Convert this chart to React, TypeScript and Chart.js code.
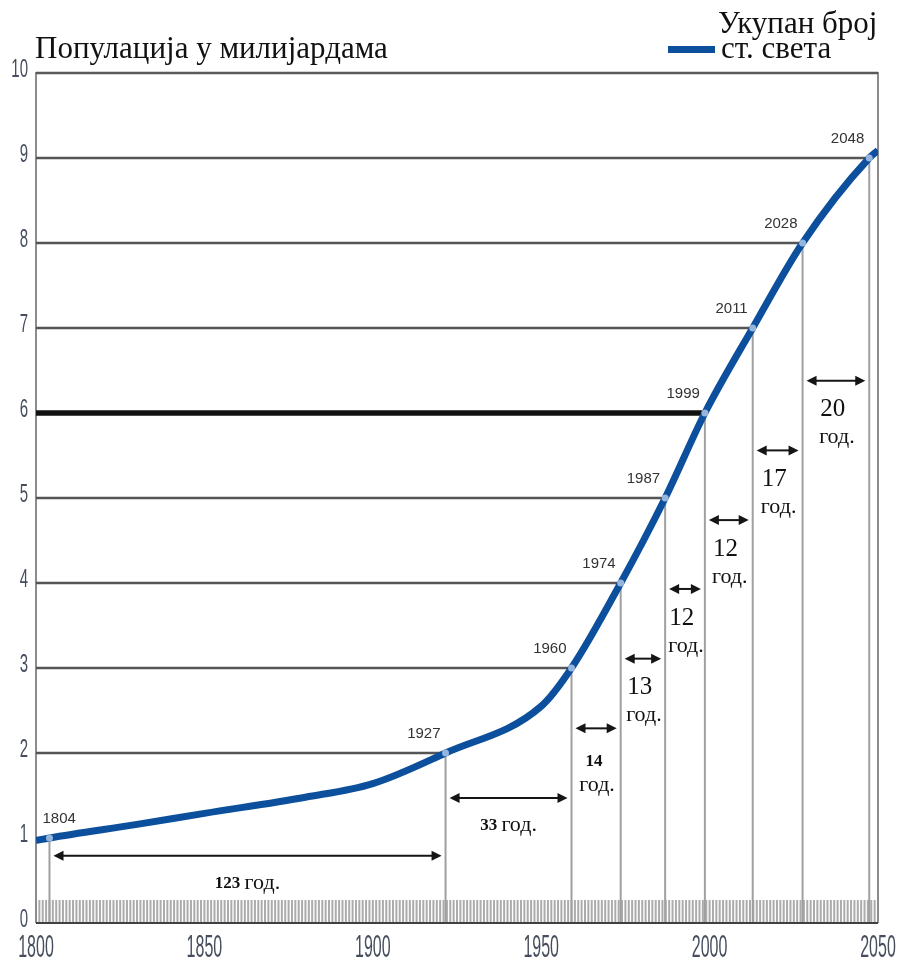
import React, { useEffect, useRef } from 'react';
import { Chart, registerables } from 'chart.js';

Chart.register(...registerables);

// ---------- data ----------
const TITLE = 'Популација у милијардама';
const LEGEND_LINES = ['Укупан број', 'ст. света'];
const INTERVAL_UNIT = 'год.';

// world population curve (year as placed on the drawing, billions)
const curveYears = [1800, 1804, 1830, 1850, 1880, 1900, 1921.6, 1950, 1959.0, 1973.6, 1986.8, 1998.6, 2012.8, 2027.6, 2047.4, 2050];
const curveBillions = [0.97, 1.0, 1.16, 1.29, 1.48, 1.64, 2.0, 2.55, 3.0, 4.0, 5.0, 6.0, 7.0, 8.0, 9.0, 9.09];

// each billion milestone: its label, position on the drawing and value
const milestoneLabels = ['1804', '1927', '1960', '1974', '1987', '1999', '2011', '2028', '2048'];
const milestoneYears = [1804, 1921.6, 1959.0, 1973.6, 1986.8, 1998.6, 2012.8, 2027.6, 2047.4];
const milestoneBillions = [1, 2, 3, 4, 5, 6, 7, 8, 9];

// level (billions) at which each interval arrow is drawn
const intervalArrowLevels = [0.79, 1.47, 2.29, 3.11, 3.93, 4.74, 5.56, 6.38];

const yTickValues = [0, 1, 2, 3, 4, 5, 6, 7, 8, 9, 10];
const xTickValues = [1800, 1850, 1900, 1950, 2000, 2050];
const highlightedBillion = 6;
const X_MIN = 1800;
const X_MAX = 2050;
const Y_MIN = 0;
const Y_MAX = 10;

// ---------- styles ----------
const LINE_BLUE = '#0c4f9d';
const SERIF = '"Liberation Serif", "Times New Roman", serif';
const SANS = '"Liberation Sans", Arial, sans-serif';
const AXIS_TEXT = '#464e5e';
const BOLD_INTERVALS = 3;

function squeezedText(ctx: CanvasRenderingContext2D, text: string, x: number, y: number, font: string, align: CanvasTextAlign, sx: number) {
  ctx.save();
  ctx.translate(x, y);
  ctx.scale(sx, 1);
  ctx.font = font;
  ctx.textAlign = align;
  ctx.textBaseline = 'middle';
  ctx.fillText(text, 0, 0);
  ctx.restore();
}

function drawArrow(ctx: CanvasRenderingContext2D, x1: number, x2: number, yy: number) {
  const head = 10;
  const hw = 5;
  ctx.save();
  ctx.strokeStyle = '#151515';
  ctx.fillStyle = '#151515';
  ctx.lineWidth = 2;
  ctx.beginPath();
  ctx.moveTo(x1 + head - 2, yy);
  ctx.lineTo(x2 - head + 2, yy);
  ctx.stroke();
  ctx.beginPath();
  ctx.moveTo(x1, yy);
  ctx.lineTo(x1 + head, yy - hw);
  ctx.lineTo(x1 + head, yy + hw);
  ctx.closePath();
  ctx.fill();
  ctx.beginPath();
  ctx.moveTo(x2, yy);
  ctx.lineTo(x2 - head, yy - hw);
  ctx.lineTo(x2 - head, yy + hw);
  ctx.closePath();
  ctx.fill();
  ctx.restore();
}

const decorPlugin = {
  id: 'populationDecor',
  beforeDatasetsDraw(chart: any) {
    const { ctx, chartArea, scales } = chart;
    const { left, right, top, bottom } = chartArea;
    const x = scales.x;
    const y = scales.y;
    ctx.save();

    // annual tick strip along the bottom
    const stripTop = y.getPixelForValue(0.27);
    ctx.fillStyle = '#ababab';
    for (let yr = X_MIN + 1; yr < X_MAX; yr++) {
      const px = x.getPixelForValue(yr);
      ctx.fillRect(px - 1, stripTop, 2, bottom - stripTop);
    }

    // frame: left axis, right border
    ctx.strokeStyle = '#8c8c8c';
    ctx.lineWidth = 2;
    ctx.beginPath();
    ctx.moveTo(left, top - 1);
    ctx.lineTo(left, bottom);
    ctx.moveTo(right, top - 1);
    ctx.lineTo(right, bottom);
    ctx.stroke();

    // top border at 10 billions
    ctx.strokeStyle = '#5a5a5a';
    ctx.lineWidth = 2.5;
    ctx.beginPath();
    ctx.moveTo(left, y.getPixelForValue(Y_MAX));
    ctx.lineTo(right, y.getPixelForValue(Y_MAX));
    ctx.stroke();

    // verticals from each milestone down to the base
    ctx.strokeStyle = '#a0a0a0';
    ctx.lineWidth = 2;
    milestoneYears.forEach((yr, i) => {
      const px = x.getPixelForValue(yr);
      ctx.beginPath();
      ctx.moveTo(px, y.getPixelForValue(milestoneBillions[i]));
      ctx.lineTo(px, bottom);
      ctx.stroke();
    });

    // horizontals from the axis to each milestone
    milestoneYears.forEach((yr, i) => {
      const v = milestoneBillions[i];
      const py = y.getPixelForValue(v);
      const hi = v === highlightedBillion;
      ctx.strokeStyle = hi ? '#111111' : '#555555';
      ctx.lineWidth = hi ? 5.5 : 2.5;
      ctx.beginPath();
      ctx.moveTo(left, py);
      ctx.lineTo(x.getPixelForValue(yr), py);
      ctx.stroke();
    });

    // baseline
    ctx.strokeStyle = '#404040';
    ctx.lineWidth = 2;
    ctx.beginPath();
    ctx.moveTo(left, bottom);
    ctx.lineTo(right, bottom);
    ctx.stroke();
    ctx.restore();
  },
  afterDatasetsDraw(chart: any) {
    const { ctx, chartArea, scales } = chart;
    const { left, bottom } = chartArea;
    const x = scales.x;
    const y = scales.y;
    ctx.save();

    // milestone year labels
    ctx.fillStyle = '#333333';
    ctx.font = `15px ${SANS}`;
    ctx.textBaseline = 'middle';
    milestoneYears.forEach((yr, i) => {
      const px = x.getPixelForValue(yr);
      const py = y.getPixelForValue(milestoneBillions[i]) - 19;
      const w = ctx.measureText(milestoneLabels[i]).width;
      if (px - 5 - w < left) {
        ctx.textAlign = 'left';
        ctx.fillText(milestoneLabels[i], px - 7, py);
      } else {
        ctx.textAlign = 'right';
        ctx.fillText(milestoneLabels[i], px - 5, py);
      }
    });

    // interval arrows and their labels
    ctx.fillStyle = '#111111';
    for (let i = 0; i < milestoneYears.length - 1; i++) {
      const span = parseInt(milestoneLabels[i + 1], 10) - parseInt(milestoneLabels[i], 10);
      const x1 = x.getPixelForValue(milestoneYears[i]) + 4;
      const x2 = x.getPixelForValue(milestoneYears[i + 1]) - 4;
      const ay = y.getPixelForValue(intervalArrowLevels[i]);
      drawArrow(ctx, x1, x2, ay);
      const bold = i < BOLD_INTERVALS;
      const numFont = bold ? `bold 17px ${SERIF}` : `25px ${SERIF}`;
      const unitFont = `22px ${SERIF}`;
      const cx = (x1 + x2) / 2;
      const num = String(span);
      ctx.textBaseline = 'middle';
      if (x2 - x1 > 100) {
        ctx.font = numFont;
        const wn = ctx.measureText(num + ' ').width;
        ctx.font = unitFont;
        const wu = ctx.measureText(INTERVAL_UNIT).width;
        const sx = cx - (wn + wu) / 2;
        ctx.textAlign = 'left';
        ctx.font = numFont;
        ctx.fillText(num, sx, ay + 28);
        ctx.font = unitFont;
        ctx.fillText(INTERVAL_UNIT, sx + wn, ay + 27);
      } else {
        ctx.font = unitFont;
        const wu = ctx.measureText(INTERVAL_UNIT).width;
        ctx.textAlign = 'center';
        ctx.fillText(INTERVAL_UNIT, cx + 1, ay + 57);
        ctx.font = numFont;
        if (bold) {
          ctx.textAlign = 'center';
          ctx.fillText(num, cx - 2, ay + 33);
        } else {
          ctx.textAlign = 'left';
          ctx.fillText(num, cx + 1 - wu / 2 + 1, ay + 29);
        }
      }
    }

    // axis tick labels (condensed)
    ctx.fillStyle = AXIS_TEXT;
    yTickValues.forEach((v) => {
      squeezedText(ctx, String(v), 28, y.getPixelForValue(v) - 3, `25px ${SANS}`, 'right', 0.6);
    });
    xTickValues.forEach((v) => {
      squeezedText(ctx, String(v), x.getPixelForValue(v), bottom + 25, `32px ${SANS}`, 'center', 0.5);
    });

    // title
    ctx.fillStyle = '#111111';
    ctx.font = `31px ${SERIF}`;
    ctx.textAlign = 'left';
    ctx.textBaseline = 'alphabetic';
    ctx.fillText(TITLE, 35, 58);

    // legend
    ctx.fillText(LEGEND_LINES[0], 718, 33);
    ctx.fillText(LEGEND_LINES[1], 721, 58);
    ctx.fillStyle = LINE_BLUE;
    ctx.fillRect(668, 46, 47, 7);

    ctx.restore();
  },
};

export default function App() {
  const ref = useRef<HTMLCanvasElement | null>(null);

  useEffect(() => {
    const canvas = ref.current;
    if (!canvas) return;
    const curve = curveYears.map((yr, i) => ({ x: yr, y: curveBillions[i] }));
    const points = milestoneYears.map((yr, i) => ({ x: yr, y: milestoneBillions[i] }));
    const chart = new Chart(canvas, {
      type: 'line',
      data: {
        datasets: [
          {
            label: 'Миљарда',
            data: points,
            showLine: false,
            pointRadius: 3.5,
            pointHoverRadius: 3.5,
            pointBackgroundColor: 'rgba(165,192,228,0.9)',
            pointBorderWidth: 0,
            order: 0,
          },
          {
            label: LEGEND_LINES.join(' '),
            data: curve,
            borderColor: LINE_BLUE,
            borderWidth: 7,
            pointRadius: 0,
            pointHoverRadius: 0,
            fill: false,
            cubicInterpolationMode: 'monotone',
            borderCapStyle: 'butt',
            order: 1,
          },
        ],
      },
      options: {
        responsive: false,
        devicePixelRatio: 1,
        animation: false,
        events: [],
        layout: { padding: { left: 36, right: 20, top: 73, bottom: 41 } },
        plugins: {
          legend: { display: false },
          tooltip: { enabled: false },
          title: { display: false },
        },
        scales: {
          x: { type: 'linear', min: X_MIN, max: X_MAX, display: false },
          y: { type: 'linear', min: Y_MIN, max: Y_MAX, display: false },
        },
      },
      plugins: [decorPlugin],
    } as any);
    return () => chart.destroy();
  }, []);

  return (
    <div style={{ position: 'absolute', left: 0, top: 0, width: 898, height: 964, background: '#ffffff' }}>
      <canvas ref={ref} width={898} height={964} style={{ display: 'block' }} />
    </div>
  );
}
